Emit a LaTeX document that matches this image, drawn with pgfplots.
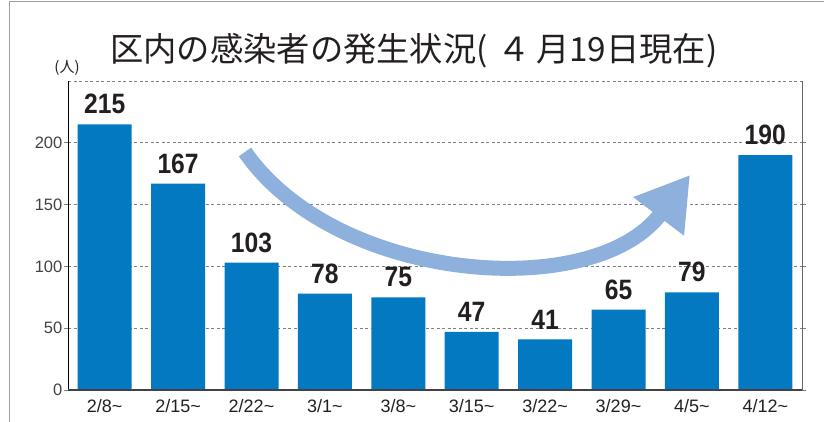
\documentclass[border=0pt]{standalone}
\usepackage{pgfplots}
\pgfplotsset{compat=1.18}
\usepackage{fontspec}
\setmainfont{Liberation Sans}
\newfontfamily\jp{Noto Sans CJK JP}
\newfontfamily\cond[FakeStretch=0.88]{Liberation Sans}
\usetikzlibrary{arrows.meta}
\definecolor{barblue}{HTML}{0279C1}
\definecolor{arrowblue}{HTML}{8DB0DC}
\definecolor{txt}{HTML}{231F20}
\begin{document}
\begin{tikzpicture}[x=1pt,y=1pt]
\useasboundingbox (0,0) rectangle (824,422);
\draw[gray!75, line width=1.2pt] (9.5,0) -- (9.5,420.5) -- (824,420.5);
\node[anchor=base west, text=txt, font=\jp\fontsize{33.3}{35}\selectfont, inner sep=0] at (110,360) {区内の感染者の発生状況(\hspace{10pt}４\hspace{5pt}月19日現在)};
\node[text=txt, font=\jp\fontsize{15}{16}\selectfont, inner sep=0] at (67,354) {(人)};
\begin{axis}[at={(68pt,32pt)}, anchor=south west, scale only axis,
  width=734pt, height=309pt,
  xmin=-0.5, xmax=9.5, ymin=0, ymax=250,
  clip=false,
  axis line style={draw=none},
  ybar, bar width=54pt,
  xtick={0,...,9},
  xticklabels={2/8\textasciitilde,2/15\textasciitilde,2/22\textasciitilde,3/1\textasciitilde,3/8\textasciitilde,3/15\textasciitilde,3/22\textasciitilde,3/29\textasciitilde,4/5\textasciitilde,4/12\textasciitilde},
  xtick style={draw=none},
  xticklabel style={font=\fontsize{18}{20}\selectfont, text=txt, yshift=-2pt},
  ytick={0,50,100,150,200},
  ytick style={draw=gray, line width=0.8pt},
  tick align=outside, major tick length=4pt,
  yticklabel style={font=\fontsize{16.5}{18}\selectfont, text=txt!85, inner sep=1.5pt},
  /pgf/number format/assume math mode=true,
  ymajorgrids, grid style={gray, line width=0.9pt, dash pattern=on 3pt off 2.5pt},
  nodes near coords,
  every node near coord/.append style={font=\cond\bfseries\fontsize{28}{30}\selectfont, text=txt, anchor=south, inner sep=0pt, yshift=10pt},
]
\addplot[fill=barblue, draw=none] coordinates {(0,215) (1,167) (2,103) (3,78) (4,75) (5,47) (6,41) (7,65) (8,79) (9,190)};
\draw[gray, line width=0.9pt, dash pattern=on 3pt off 2.5pt] (rel axis cs:0,1) -- (rel axis cs:1,1);
\draw[black, line width=1pt] (rel axis cs:0,0) -- (rel axis cs:0,1);
\draw[gray!80!black, line width=1pt] (rel axis cs:1,0) -- (rel axis cs:1,1);
\draw[txt!85, line width=2pt] (rel axis cs:0,0) -- (rel axis cs:1,0);
\end{axis}
\draw[arrowblue, line width=15pt, -{Triangle[length=52pt, width=60pt]}] (245,270) .. controls (336,139) and (593,119) .. (690,247);
\end{tikzpicture}
\end{document}
